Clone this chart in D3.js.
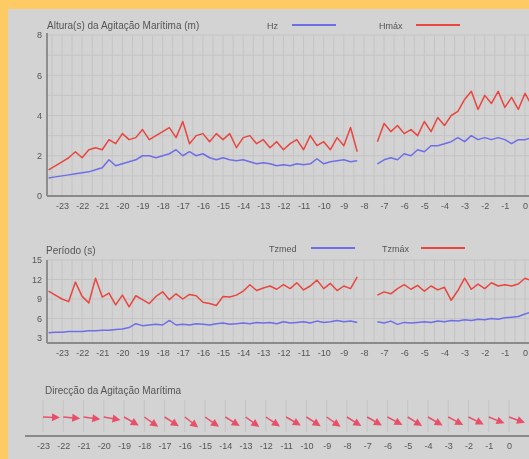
<!DOCTYPE html>
<html>
<head>
<meta charset="utf-8">
<script src="https://cdn.jsdelivr.net/npm/d3@7"></script>
<style>
  body { margin: 0; background: #fdca63; }
  svg { display: block; filter: blur(0.35px); }
  text { font-family: "Liberation Sans", Arial, sans-serif; fill: #555; }
</style>
</head>
<body>
<div id="chart"></div>
<script>
// hour labels on the x axes
const hours = d3.range(-23, 1);

// readings every 20 minutes, starting at -23h40 (null = no data)
const startHour = -23 - 2 / 3;
const stepHour = 1 / 3;

const hz = [0.9, 0.95, 1.0, 1.05, 1.1, 1.15, 1.2, 1.3, 1.4, 1.8, 1.5, 1.6, 1.7, 1.8, 2.0, 2.0, 1.9, 2.0, 2.1, 2.3,
  2.0, 2.2, 2.0, 2.1, 1.9, 1.8, 1.9, 1.8, 1.75, 1.8, 1.7, 1.6, 1.65, 1.6, 1.5, 1.55, 1.5, 1.6, 1.55, 1.6,
  1.85, 1.6, 1.7, 1.75, 1.8, 1.7, 1.75, null, null, 1.6, 1.8, 1.9, 1.8, 2.1, 2.0, 2.3, 2.2, 2.5, 2.5, 2.6,
  2.7, 2.9, 2.7, 3.0, 2.8, 2.9, 2.8, 2.9, 2.8, 2.6, 2.8, 2.8, 2.9];

const hmax = [1.3, 1.5, 1.7, 1.9, 2.2, 1.9, 2.3, 2.4, 2.3, 2.8, 2.6, 3.1, 2.8, 2.9, 3.3, 2.8, 3.0, 3.2, 3.4, 2.9,
  3.7, 2.6, 3.0, 3.1, 2.7, 3.1, 2.8, 3.1, 2.4, 2.9, 3.0, 2.6, 2.8, 2.4, 2.7, 2.3, 2.6, 2.8, 2.3, 3.0,
  2.5, 2.7, 2.3, 2.9, 2.5, 3.4, 2.2, null, null, 2.7, 3.6, 3.2, 3.5, 3.1, 3.3, 3.0, 3.7, 3.2, 3.9, 3.5,
  4.0, 4.2, 4.8, 5.2, 4.3, 5.0, 4.6, 5.2, 4.4, 4.9, 4.3, 5.1, 4.5];

const tzmed = [3.8, 3.9, 3.9, 4.0, 4.0, 4.0, 4.1, 4.1, 4.2, 4.2, 4.3, 4.4, 4.6, 5.2, 4.9, 5.0, 5.1, 5.0, 5.7, 5.0,
  5.1, 5.0, 5.2, 5.1, 5.0, 5.2, 5.3, 5.1, 5.2, 5.3, 5.2, 5.4, 5.3, 5.4, 5.2, 5.5, 5.3, 5.4, 5.5, 5.3,
  5.6, 5.4, 5.5, 5.7, 5.5, 5.6, 5.4, null, null, 5.5, 5.3, 5.6, 5.1, 5.4, 5.3, 5.4, 5.5, 5.4, 5.6, 5.5,
  5.7, 5.6, 5.8, 5.7, 5.9, 5.8, 6.0, 5.9, 6.1, 6.2, 6.3, 6.7, 7.0];

const tzmax = [10.2, 9.6, 9.0, 8.6, 11.6, 9.4, 8.4, 12.2, 9.3, 9.9, 8.1, 9.6, 7.8, 9.5, 8.9, 8.3, 9.4, 10.1, 8.9, 9.8,
  9.0, 9.7, 9.5, 8.5, 8.3, 8.0, 9.4, 9.3, 9.6, 10.2, 11.2, 10.3, 10.7, 11.0, 10.5, 11.2, 10.6, 11.5, 10.4, 11.0,
  11.9, 10.6, 11.4, 10.3, 11.0, 10.6, 12.4, null, null, 9.6, 10.1, 9.8, 10.6, 11.2, 10.5, 11.1, 10.2, 11.0, 10.4, 10.8,
  8.8, 10.3, 12.2, 10.5, 11.3, 10.6, 11.5, 11.0, 11.2, 11.0, 11.3, 12.2, 11.8];

// hourly wave direction (degrees, coming from)
const dirs = [272, 275, 278, 280, 300, 305, 303, 308, 305, 302, 306, 304,
  300, 303, 305, 302, 300, 298, 302, 300, 298, 296, 292, 290];

const width = 529, height = 459;
const blue = '#6e6ee8', red = '#e8463f';

const svg = d3.select('#chart')
  .append('svg')
  .attr('width', width)
  .attr('height', height);

svg.append('rect')
  .attr('x', 8).attr('y', 9)
  .attr('width', width - 8).attr('height', height - 9)
  .attr('fill', '#d3d3d3');

const x = d3.scaleLinear().domain([-23, 0]).range([62, 525]);
const xDir = d3.scaleLinear().domain([-23, 0]).range([43, 509]);
const y1 = d3.scaleLinear().domain([0, 8]).range([196, 35]);
const y2 = d3.scaleLinear().domain([3, 15]).range([338, 260]);

const toPoints = arr => arr.map((v, i) => ({ t: startHour + i * stepHour, v: v }));

function grid(g, xs, top, bottom, yTicks, yScale) {
  g.append('g').selectAll('line')
    .data(d3.range(-23.5, 0.6, 0.5))
    .join('line')
    .attr('x1', d => xs(d)).attr('x2', d => xs(d))
    .attr('y1', top).attr('y2', bottom)
    .attr('stroke', '#c4c4c4').attr('stroke-width', 1);
  if (yScale) {
    g.append('g').selectAll('line')
      .data(yTicks)
      .join('line')
      .attr('x1', 47).attr('x2', width)
      .attr('y1', d => yScale(d)).attr('y2', d => yScale(d))
      .attr('stroke', '#c4c4c4').attr('stroke-width', 1);
  }
}

function xAxis(g, xs, yPos, axisStart) {
  g.append('line')
    .attr('x1', axisStart).attr('x2', width)
    .attr('y1', yPos).attr('y2', yPos)
    .attr('stroke', '#8a8a8a').attr('stroke-width', 2);
  const ax = g.append('g')
    .attr('transform', `translate(0,${yPos})`)
    .call(d3.axisBottom(xs).tickValues(hours).tickFormat(d => String(d)).tickSize(0).tickPadding(7));
  ax.select('.domain').remove();
  ax.selectAll('text').attr('font-size', 9).attr('fill', '#555')
    .attr('font-family', '"Liberation Sans", Arial, sans-serif');
}

function yAxis(g, ys, ticks, top, bottom) {
  g.append('line')
    .attr('x1', 47).attr('x2', 47)
    .attr('y1', top).attr('y2', bottom)
    .attr('stroke', '#777').attr('stroke-width', 1.5);
  const ax = g.append('g')
    .attr('transform', 'translate(47,0)')
    .call(d3.axisLeft(ys).tickValues(ticks).tickSize(0).tickPadding(5));
  ax.select('.domain').remove();
  ax.selectAll('text').attr('font-size', 9).attr('fill', '#555')
    .attr('font-family', '"Liberation Sans", Arial, sans-serif');
}

function legend(g, items, yPos) {
  items.forEach(it => {
    g.append('text')
      .attr('x', it.x).attr('y', yPos + 3.5)
      .attr('font-size', 9)
      .text(it.label);
    g.append('line')
      .attr('x1', it.lx).attr('x2', it.lx + 44)
      .attr('y1', yPos).attr('y2', yPos)
      .attr('stroke', it.color).attr('stroke-width', 2);
  });
}

function series(g, data, ys, color) {
  const line = d3.line()
    .defined(d => d.v != null)
    .x(d => x(d.t))
    .y(d => ys(d.v));
  g.append('path')
    .datum(toPoints(data))
    .attr('d', line)
    .attr('fill', 'none')
    .attr('stroke', color)
    .attr('stroke-width', 1.5)
    .attr('stroke-linejoin', 'round');
}

// chart 1: wave heights
const c1 = svg.append('g');
grid(c1, x, 35, 196, [1, 2, 3, 4, 5, 6, 7, 8], y1);
c1.append('text').attr('x', 47).attr('y', 29).attr('font-size', 10)
  .text('Altura(s) da Agitação Marítima (m)');
legend(c1, [
  { label: 'Hz', x: 267, lx: 292, color: blue },
  { label: 'Hmáx', x: 379, lx: 416, color: red }
], 25);
series(c1, hz, y1, blue);
series(c1, hmax, y1, red);
yAxis(c1, y1, [0, 2, 4, 6, 8], 33, 196);
xAxis(c1, x, 196, 47);

// chart 2: periods
const c2 = svg.append('g');
grid(c2, x, 260, 343, [6, 9, 12, 15], y2);
c2.append('text').attr('x', 46).attr('y', 254).attr('font-size', 10)
  .text('Período (s)');
legend(c2, [
  { label: 'Tzmed', x: 269, lx: 311, color: blue },
  { label: 'Tzmáx', x: 382, lx: 421, color: red }
], 248);
series(c2, tzmed, y2, blue);
series(c2, tzmax, y2, red);
yAxis(c2, y2, [3, 6, 9, 12, 15], 260, 343);
xAxis(c2, x, 343, 47);

// chart 3: direction arrows
const c3 = svg.append('g');
c3.append('g').selectAll('line')
  .data(hours)
  .join('line')
  .attr('x1', d => xDir(d)).attr('x2', d => xDir(d))
  .attr('y1', 400).attr('y2', 432)
  .attr('stroke', '#c4c4c4');
c3.append('text').attr('x', 45).attr('y', 394).attr('font-size', 10)
  .text('Direcção da Agitação Marítima');

const arrows = c3.append('g').selectAll('g')
  .data(dirs.map((d, i) => ({ t: hours[i], dir: d })))
  .join('g')
  .attr('transform', d => `translate(${xDir(d.t)},417) rotate(${d.dir + 90})`);
arrows.append('line')
  .attr('x1', 0).attr('x2', 11).attr('y1', 0).attr('y2', 0)
  .attr('stroke', '#e8506a').attr('stroke-width', 1.5);
arrows.append('path')
  .attr('d', 'M17,0 L9,-4 L9,4 Z')
  .attr('fill', '#e8506a');

xAxis(c3, xDir, 436, 25);
</script>
</body>
</html>
